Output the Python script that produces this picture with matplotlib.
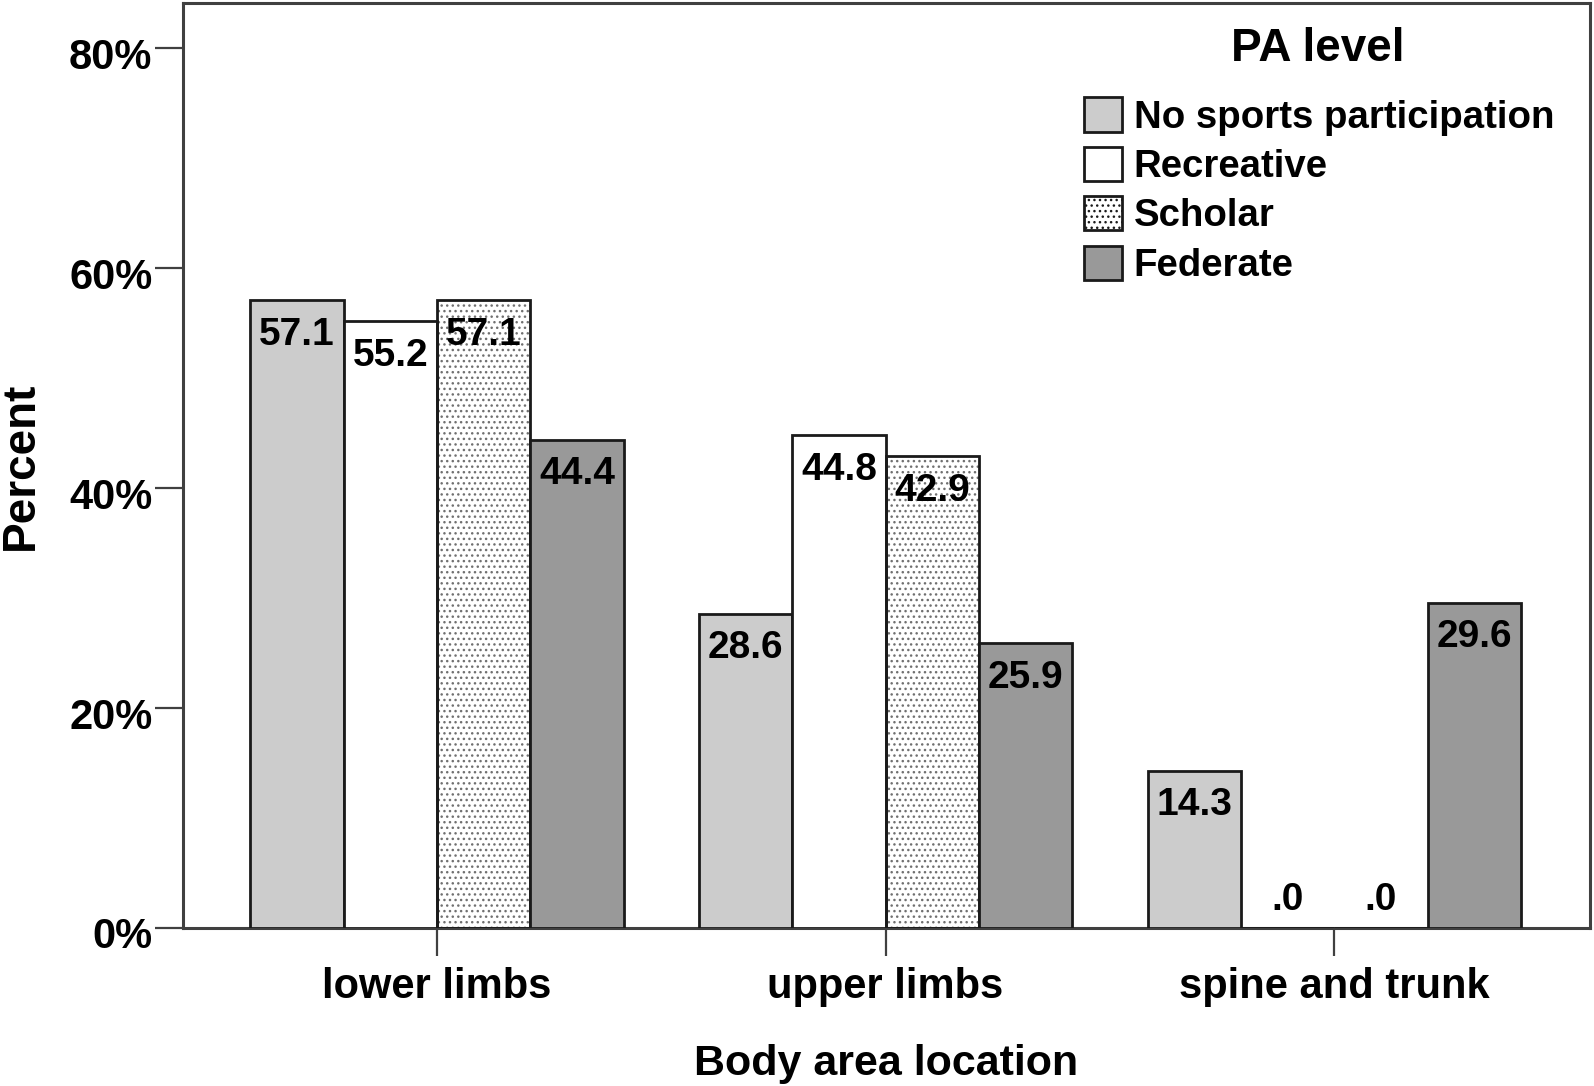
import matplotlib
matplotlib.use('Agg')
import matplotlib.pyplot as plt
from matplotlib.patches import Patch
from matplotlib.transforms import ScaledTranslation
import numpy as np

# data
categorias = ['lower limbs', 'upper limbs', 'spine and trunk']
niveis = ['No sports participation', 'Recreative', 'Scholar', 'Federate']
no_sports = [57.1, 28.6, 14.3]
recreative = [55.2, 44.8, 0.0]
scholar = [57.1, 42.9, 0.0]
federate = [44.4, 25.9, 29.6]
yticks = [0, 20, 40, 60, 80]

series = [no_sports, recreative, scholar, federate]
cores = ['#cccccc', '#ffffff', '#ffffff', '#999999']
hatches = [None, None, '...', None]

plt.rcParams['font.family'] = ['Liberation Sans', 'DejaVu Sans']
plt.rcParams['font.weight'] = 'bold'

fig = plt.figure(figsize=(15.94, 10.86), dpi=100)
ax = fig.add_axes([0.1148, 0.1455, 0.8827, 0.8515])

x = np.arange(len(categorias))
largura = 0.208
desloc = (np.arange(4) - 1.5) * largura

for i, vals in enumerate(series):
	pos = x + desloc[i]
	if hatches[i]:
		ax.bar(pos, vals, largura, color=cores[i], hatch=hatches[i], edgecolor='#707070', linewidth=0, zorder=2)
		ax.bar(pos, vals, largura, fill=False, edgecolor='#1a1a1a', linewidth=2.0, zorder=3)
	else:
		ax.bar(pos, vals, largura, color=cores[i], edgecolor='#1a1a1a', linewidth=2.0, zorder=3)
	for p, v in zip(pos, vals):
		txt = '.0' if v == 0 else f'{v:.1f}'
		if v > 0:
			ax.annotate(txt, (p, v), xytext=(0, -12), textcoords='offset points',
				ha='center', va='top', fontsize=28, fontweight='bold', zorder=4)
		else:
			ax.annotate(txt, (p, v), xytext=(0, 7), textcoords='offset points',
				ha='center', va='bottom', fontsize=28, fontweight='bold', zorder=4)

ax.set_xlim(-0.566, 2.57)
ax.set_ylim(0, 84.1)
ax.set_xticks(x)
ax.set_xticklabels(categorias, fontsize=30, fontweight='bold')
ax.set_yticks(yticks)
ax.set_yticklabels([f'{t}%' for t in yticks], fontsize=30, fontweight='bold')
ax.tick_params(axis='both', direction='out', length=20, width=1.6, color='#404040')
ax.tick_params(axis='y', pad=2)
ax.tick_params(axis='x', pad=8)
desce = ScaledTranslation(0, -0.05, fig.dpi_scale_trans)
for lab in ax.get_yticklabels():
	lab.set_transform(lab.get_transform() + desce)
for s in ax.spines.values():
	s.set_color('#404040')
	s.set_linewidth(2.2)

ax.set_ylabel('Percent', fontsize=33, fontweight='bold', labelpad=19)
ax.set_xlabel('Body area location', fontsize=31, fontweight='bold', labelpad=27)

handles = []
for i in range(4):
	handles.append(Patch(facecolor=cores[i], edgecolor='#1a1a1a', hatch=hatches[i], linewidth=2.0))
leg = fig.legend(handles, niveis, loc='upper left', bbox_to_anchor=(0.668, 0.928),
	frameon=False, fontsize=27.6, handlelength=1.0, handleheight=1.0,
	handletextpad=0.3, labelspacing=0.29, borderpad=0)
for t in leg.get_texts():
	t.set_fontweight('bold')
fig.text(0.8265, 0.955, 'PA level', ha='center', va='center', fontsize=33, fontweight='bold')

plt.savefig('out.png', dpi=100)
